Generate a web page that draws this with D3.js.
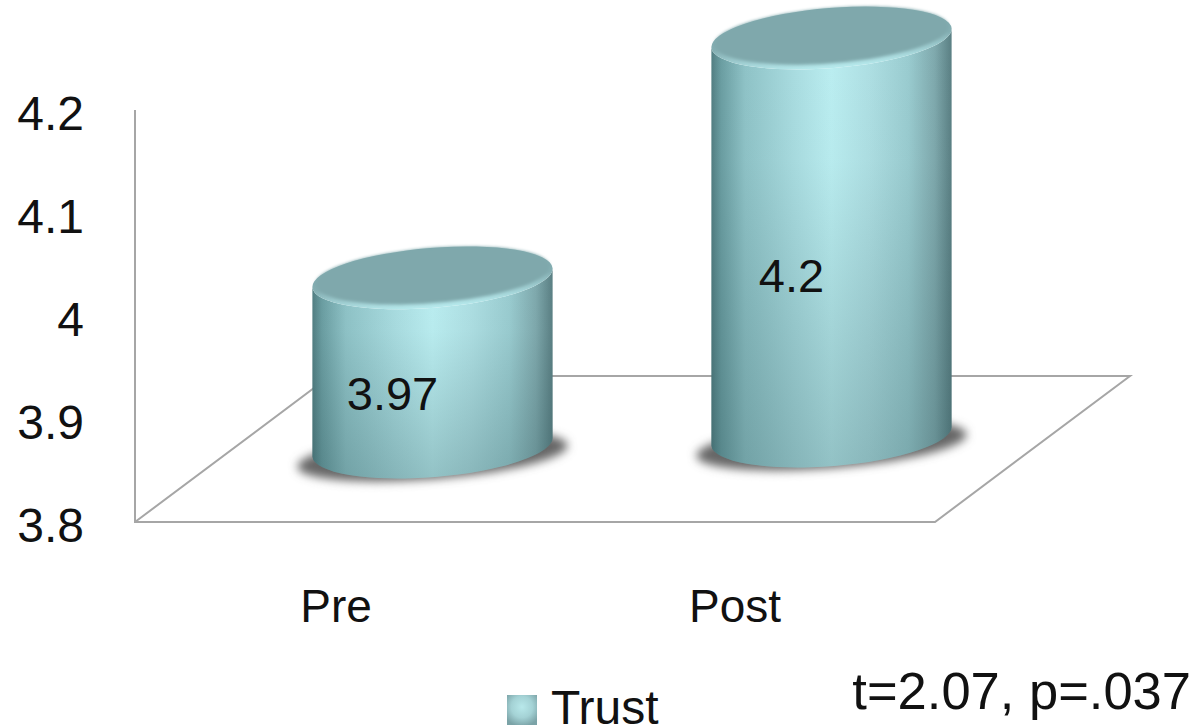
<!DOCTYPE html>
<html>
<head>
<meta charset="utf-8">
<style>
html,body{margin:0;padding:0;background:#fff;overflow:hidden}
text{font-family:"Liberation Sans",Arial,sans-serif;fill:#111}
</style>
<script src="https://cdn.jsdelivr.net/npm/d3@7/dist/d3.min.js"></script>
</head>
<body>
<svg id="chart" width="1194" height="728"></svg>
<script>
const categories = ["Pre", "Post"];
const trustValues = [3.97, 4.2];
const valueLabels = ["3.97", "4.2"];
const tickValues = [3.8, 3.9, 4.0, 4.1, 4.2];
const tickLabels = ["3.8", "3.9", "4", "4.1", "4.2"];
const seriesName = "Trust";
const statNote = "t=2.07, p=.037";

const svg = d3.select("#chart");
const defs = svg.append("defs");

// Tick labels and the cylinder heights each follow their own projected scale.
const yTicks = d3.scaleLinear().domain([3.8, 4.2]).range([542, 130]);
const barHeight = d3.scaleLinear().domain([3.8, 4.2]).range([0, 398]);
const x = d3.scaleBand().domain(categories).range([233, 1031]);

const rx = 120.5, ry = 30, tilt = -4.6;
const dx = rx * Math.cos(tilt * Math.PI / 180);
const dy = rx * Math.sin(tilt * Math.PI / 180);
const baseCentre = { Pre: 447, Post: 436 };

// Horizontal shading of the cylinder wall
const wall = defs.append("linearGradient").attr("id", "wall");
[[0, "#527e82"], [0.04, "#6b9ea2"], [0.14, "#8fc3c7"], [0.35, "#aadde1"], [0.5, "#bbeef1"],
 [0.66, "#aedfe3"], [0.82, "#9accd0"], [0.93, "#7fa9ad"], [1, "#5a7f83"]].forEach(([o, c]) =>
  wall.append("stop").attr("offset", o).attr("stop-color", c));

// Darkening towards the foot of the wall
const foot = defs.append("linearGradient").attr("id", "foot").attr("x1", 0).attr("x2", 0).attr("y1", 0).attr("y2", 1);
[[0, 0.0], [0.3, 0.02], [1, 0.26]].forEach(([o, a]) =>
  foot.append("stop").attr("offset", o).attr("stop-color", "#1f4448").attr("stop-opacity", a));

// Cap rim: dull at the back, catching the light along the front edge
const rim = defs.append("linearGradient").attr("id", "rim").attr("x1", 0).attr("x2", 0).attr("y1", 0).attr("y2", 1);
[[0, "#7fa8ac"], [0.55, "#84aeb2"], [1, "#b7eaed"]].forEach(([o, c]) =>
  rim.append("stop").attr("offset", o).attr("stop-color", c));

const softFilter = (id, sd) => defs.append("filter").attr("id", id)
  .attr("x", "-20%").attr("y", "-50%").attr("width", "140%").attr("height", "200%")
  .append("feGaussianBlur").attr("stdDeviation", sd);
softFilter("soft", 5);
softFilter("softCap", 1.6);

const swatch = defs.append("radialGradient").attr("id", "swatch").attr("cx", "50%").attr("cy", "40%").attr("r", "65%");
[[0, "#b8e8ea"], [0.55, "#a4d2d5"], [1, "#7ba3a7"]].forEach(([o, c]) =>
  swatch.append("stop").attr("offset", o).attr("stop-color", c));

// Axis wall and floor outline
svg.append("path")
  .attr("fill", "none").attr("stroke", "#a6a6a6").attr("stroke-width", 2)
  .attr("d", d3.line()([[135, 110], [135, 522], [935, 522], [1130, 376], [330, 376], [135, 522]]));

// Tick labels
svg.append("g").selectAll("text").data(tickValues).join("text")
  .attr("x", 84).attr("y", d => yTicks(d))
  .attr("text-anchor", "end").attr("font-size", 48)
  .text((d, i) => tickLabels[i]);

// Cylinders: ground shadow, wall, foot shading, then the cap
const bars = svg.append("g").selectAll("g").data(categories).join("g");
bars.each(function (cat, i) {
  const g = d3.select(this);
  const cx = x(cat) + x.bandwidth() / 2;
  const by = baseCentre[cat];
  const ty = by - barHeight(trustValues[i]);
  const body = `M${cx - dx},${ty - dy}L${cx - dx},${by - dy}A${rx},${ry} ${tilt} 0 0 ${cx + dx},${by + dy}L${cx + dx},${ty + dy}A${rx},${ry} ${tilt} 0 1 ${cx - dx},${ty - dy}Z`;
  g.append("ellipse").attr("cx", cx).attr("cy", by + 9).attr("rx", rx + 15).attr("ry", ry - 7)
    .attr("transform", `rotate(${tilt} ${cx} ${by + 9})`).attr("fill", "#666666").attr("filter", "url(#soft)");
  g.append("path").attr("d", body).attr("fill", "url(#wall)");
  g.append("path").attr("d", body).attr("fill", "url(#foot)");
  g.append("ellipse").attr("cx", cx).attr("cy", ty).attr("rx", rx).attr("ry", ry)
    .attr("transform", `rotate(${tilt} ${cx} ${ty})`).attr("fill", "url(#rim)");
  g.append("ellipse").attr("cx", cx).attr("cy", ty - 2.5).attr("rx", rx - 3).attr("ry", ry - 2.5)
    .attr("transform", `rotate(${tilt} ${cx} ${ty - 2.5})`).attr("fill", "#7fa8ac").attr("filter", "url(#softCap)");
});

// Value labels sit on the cylinder walls
const labelDrop = [132, 254];
svg.append("g").selectAll("text").data(categories).join("text")
  .attr("x", d => x(d) + x.bandwidth() / 2 - 40)
  .attr("y", (d, i) => baseCentre[d] - barHeight(trustValues[i]) + labelDrop[i])
  .attr("text-anchor", "middle").attr("font-size", 47)
  .text((d, i) => valueLabels[i]);

// Category labels, shifted forward to the front edge of the floor
svg.append("g").selectAll("text").data(categories).join("text")
  .attr("x", d => x(d) + x.bandwidth() / 2 - 96.5).attr("y", 622)
  .attr("text-anchor", "middle").attr("font-size", 46)
  .text(d => d);

// Legend and significance note
svg.append("rect").attr("x", 507).attr("y", 695).attr("width", 30).attr("height", 30).attr("fill", "url(#swatch)");
svg.append("text").attr("x", 551).attr("y", 724).attr("font-size", 48).text(seriesName);
svg.append("text").attr("x", 1191).attr("y", 709).attr("text-anchor", "end").attr("font-size", 52.5).text(statNote);
</script>
</body>
</html>
